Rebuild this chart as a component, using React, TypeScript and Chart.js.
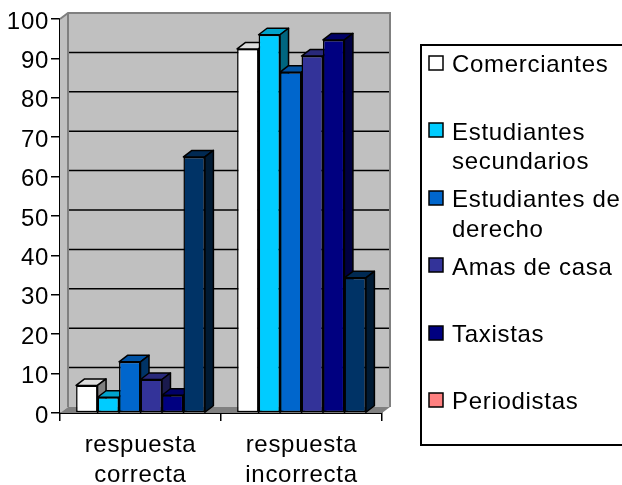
import React, { useEffect, useRef } from "react";
import { Chart, registerables } from "chart.js";

Chart.register(...registerables);

const categories = [["respuesta", "correcta"], ["respuesta", "incorrecta"]];
const seriesNames = ["Comerciantes", "Estudiantes secundarios", "Estudiantes de derecho", "Amas de casa", "Taxistas", "Periodistas"];
const comerciantes = [7, 92.4];
const secundarios = [4, 96];
const derecho = [13, 86.5];
const amas = [8.5, 90.6];
const taxistas = [4.5, 94.7];
const periodistas = [65, 34.3];
const allValues = [comerciantes, secundarios, derecho, amas, taxistas, periodistas];

const frontColors = ["#FFFFFF", "#00CCFF", "#0066CC", "#333399", "#000080", "#003366"];
const topColors = ["#DDDDDD", "#00A3CC", "#0052A3", "#29297A", "#000066", "#002952"];
const sideColors = ["#808080", "#006680", "#003366", "#1A1A4D", "#000040", "#001A33"];
const legendColors = ["#FFFFFF", "#00CCFF", "#0066CC", "#333399", "#000080", "#FF8080"];
const legendLines = [["Comerciantes"], ["Estudiantes", "secundarios"], ["Estudiantes de", "derecho"], ["Amas de casa"], ["Taxistas"], ["Periodistas"]];
const legendBaselines = [[72], [140, 169], [207, 237], [275], [342], [409]];
const legendSwatchTops = [56, 123, 191, 258, 326, 393];

const FONT = "Liberation Sans, Arial, sans-serif";
const FONT_SIZE = 24;
const LETTER_SPACING = "0.7px";
const DX = 8;
const DY = 6;

function poly(ctx: CanvasRenderingContext2D, pts: number[][], fill: string, stroke?: string, lw = 1.5) {
  ctx.beginPath();
  pts.forEach((p, i) => (i ? ctx.lineTo(p[0], p[1]) : ctx.moveTo(p[0], p[1])));
  ctx.closePath();
  ctx.fillStyle = fill;
  ctx.fill();
  if (stroke) {
    ctx.strokeStyle = stroke;
    ctx.lineWidth = lw;
    ctx.lineJoin = "round";
    ctx.stroke();
  }
}

const wallPlugin = {
  id: "wall3d",
  beforeDraw(chart: any) {
    const { ctx, scales } = chart;
    (ctx as any).letterSpacing = LETTER_SPACING;
    if (!chart.$shifted) {
      chart.$shifted = true;
      scales.y.getLabelItems().forEach((item: any) => { item.textOffset += 3; });
    }
  },
  beforeDatasetsDraw(chart: any) {
    const { ctx, chartArea: a, scales } = chart;
    const x0 = a.left, x1 = a.right, yb = a.bottom, yt = a.top;
    ctx.save();
    poly(ctx, [[x0, yt], [x0 + DX, yt - DY], [x0 + DX, yb - DY], [x0, yb]], "#C0C0C0");
    poly(ctx, [[x0 + DX, yt - DY], [x1 + DX, yt - DY], [x1 + DX, yb - DY], [x0 + DX, yb - DY]], "#C0C0C0");
    const y = scales.y;
    ctx.strokeStyle = "#000";
    ctx.lineWidth = 1.5;
    y.ticks.forEach((t: any) => {
      if (t.value === 0 || t.value === 100) return;
      const py = y.getPixelForValue(t.value) - DY;
      ctx.beginPath();
      ctx.moveTo(x0 + DX, py);
      ctx.lineTo(x1 + DX, py);
      ctx.stroke();
    });
    ctx.strokeStyle = "#808080";
    ctx.lineWidth = 2;
    ctx.beginPath();
    ctx.moveTo(x0, yt);
    ctx.lineTo(x0 + DX, yt - DY);
    ctx.lineTo(x1 + DX, yt - DY);
    ctx.lineTo(x1 + DX, yb - DY);
    ctx.moveTo(x0 + DX, yt - DY);
    ctx.lineTo(x0 + DX, yb - DY);
    ctx.stroke();
    poly(ctx, [[x0, yb], [x0 + DX, yb - DY], [x1 + DX, yb - DY], [x1, yb]], "#808080");
    // draw the series left to right so that each bar overlaps the side of the previous one
    chart.getSortedVisibleDatasetMetas().forEach((meta: any) => {
      const i = meta.index;
      meta.data.forEach((bar: any) => {
        const { x, y: top, width, base } = bar.getProps(["x", "y", "width", "base"], true);
        const l = x - width / 2;
        const r = x + width / 2;
        const dx = DX + 0.5;
        const dy = DY + 0.5;
        poly(ctx, [[l, top], [l + dx, top - dy], [r + dx, top - dy], [r, top]], topColors[i], "#000");
        poly(ctx, [[r, top], [r + dx, top - dy], [r + dx, base - dy], [r, base]], sideColors[i], "#000");
      });
      meta.controller.draw();
    });
    ctx.restore();
  },
  beforeDatasetDraw() {
    return false;
  },
  afterDraw(chart: any) {
    const { ctx } = chart;
    ctx.save();
    ctx.strokeStyle = "#000";
    ctx.lineWidth = 2;
    ctx.strokeRect(421, 45, 220, 400);
    ctx.font = `${FONT_SIZE}px ${FONT}`;
    ctx.textBaseline = "alphabetic";
    ctx.textAlign = "left";
    legendLines.forEach((lines, i) => {
      ctx.fillStyle = legendColors[i];
      ctx.fillRect(429, legendSwatchTops[i], 14, 14);
      ctx.strokeStyle = "#000";
      ctx.lineWidth = 1.5;
      ctx.strokeRect(429, legendSwatchTops[i], 14, 14);
      ctx.fillStyle = "#000";
      lines.forEach((line, j) => ctx.fillText(line, 452, legendBaselines[i][j]));
    });
    ctx.restore();
  },
};

export default function App() {
  const ref = useRef<HTMLCanvasElement>(null);
  useEffect(() => {
    const chart = new Chart(ref.current!, {
      type: "bar",
      data: {
        labels: categories as any,
        datasets: allValues.map((values, i) => ({
          label: seriesNames[i],
          data: values,
          backgroundColor: frontColors[i],
          borderColor: "#000",
          borderWidth: 1.5,
          borderSkipped: false,
          categoryPercentage: 0.8,
          barPercentage: 1,
        })),
      },
      options: {
        animation: false,
        responsive: false,
        layout: { padding: { top: 19, right: 240, left: 0, bottom: 0 } },
        plugins: { legend: { display: false }, title: { display: false }, tooltip: { enabled: false } },
        scales: {
          x: {
            afterFit: (s: any) => { s.height = 72; },
            grid: { drawOnChartArea: false, tickLength: 8, color: "#000", lineWidth: 1.5 },
            border: { color: "#000", width: 2 },
            ticks: { color: "#000", font: { family: FONT, size: FONT_SIZE, lineHeight: 1.25 }, maxRotation: 0, autoSkip: false, padding: 9 },
          },
          y: {
            min: 0,
            max: 100,
            afterFit: (s: any) => { s.width = 60; },
            grid: { drawOnChartArea: false, tickLength: 9, color: "#000", lineWidth: 1.5 },
            border: { color: "#000", width: 2 },
            ticks: { stepSize: 10, color: "#000", font: { family: FONT, size: FONT_SIZE }, padding: 2 },
          },
        },
      },
      plugins: [wallPlugin],
    } as any);
    return () => chart.destroy();
  }, []);
  return (
    <div style={{ position: "absolute", left: 0, top: 0, width: 622, height: 485, overflow: "hidden", background: "#fff" }}>
      <canvas ref={ref} width={622} height={485} style={{ display: "block" }} />
    </div>
  );
}
